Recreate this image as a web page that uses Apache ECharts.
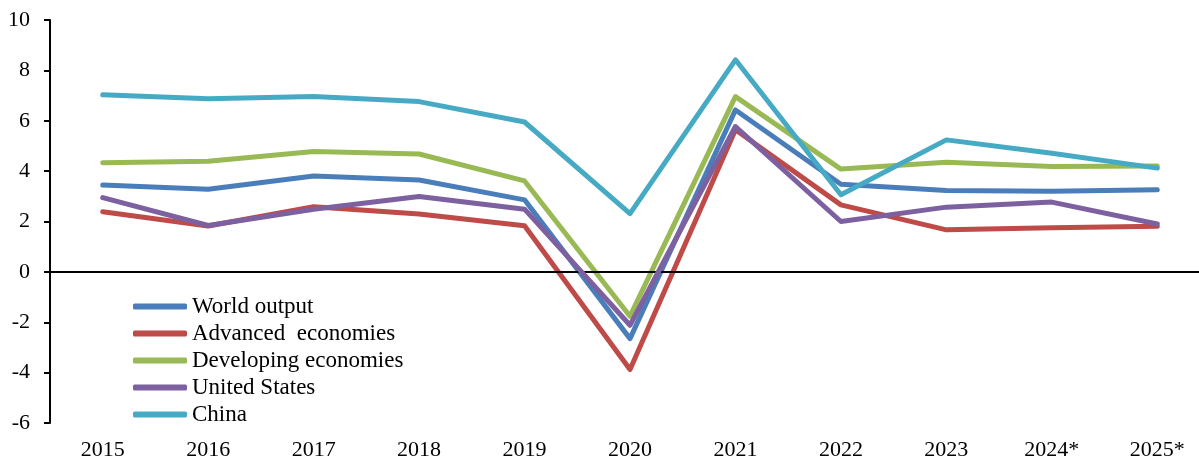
<!DOCTYPE html>
<html>
<head>
<meta charset="utf-8">
<script src="https://cdn.jsdelivr.net/npm/echarts@6/dist/echarts.min.js"></script>
<style>
html,body{margin:0;padding:0;background:#fff;}
#chart{width:1199px;height:459px;}
</style>
</head>
<body>
<div id="chart"></div>
<script>
var years = ['2015','2016','2017','2018','2019','2020','2021','2022','2023','2024*','2025*'];
var worldOutput = [3.45, 3.28, 3.81, 3.65, 2.86, -2.65, 6.43, 3.48, 3.23, 3.20, 3.26];
var advancedEconomies = [2.39, 1.82, 2.59, 2.30, 1.83, -3.88, 5.64, 2.66, 1.67, 1.75, 1.81];
var developingEconomies = [4.33, 4.39, 4.78, 4.68, 3.61, -1.76, 6.96, 4.08, 4.35, 4.18, 4.20];
var unitedStates = [2.95, 1.84, 2.49, 2.99, 2.49, -2.12, 5.77, 2.00, 2.57, 2.77, 1.90];
var china = [7.03, 6.87, 6.96, 6.76, 5.95, 2.31, 8.42, 3.06, 5.24, 4.71, 4.12];
var yTicks = {min: -6, max: 10, interval: 2};

var seriesNames = ['World output', 'Advanced  economies', 'Developing economies', 'United States', 'China'];
var seriesData = [worldOutput, advancedEconomies, developingEconomies, unitedStates, china];
var colors = ['#4A7EBB', '#BE4B48', '#98B954', '#7D60A0', '#46AAC5'];
var fontFamily = '"Liberation Serif", "DejaVu Serif", serif';

var series = [{
  name: 'zero',
  type: 'line',
  data: [],
  z: 1,
  silent: true,
  markLine: {
    silent: true,
    symbol: ['none', 'none'],
    label: {show: false},
    lineStyle: {color: '#000', width: 2, type: 'solid'},
    data: [{yAxis: 0}],
    animation: false
  }
}];
seriesNames.forEach(function (n, i) {
  series.push({
    name: n,
    type: 'line',
    data: seriesData[i],
    symbol: 'none',
    z: 2 + i,
    lineStyle: {width: 5, color: colors[i], cap: 'round', join: 'round'},
    itemStyle: {color: colors[i]},
    animation: false
  });
});

var chart = echarts.init(document.getElementById('chart'), null, {renderer: 'canvas'});
chart.setOption({
  animation: false,
  color: colors,
  grid: {left: 50, top: 20, bottom: 36, right: -11, outerBoundsMode: 'none', containLabel: false},
  legend: {
    data: seriesNames,
    orient: 'vertical',
    left: 133,
    top: 295,
    padding: 0,
    icon: 'roundRect',
    itemWidth: 54,
    itemHeight: 6,
    itemGap: 4,
    textStyle: {fontFamily: fontFamily, fontSize: 23, lineHeight: 23, color: '#000'},
    selectedMode: false
  },
  xAxis: {
    type: 'category',
    data: years,
    boundaryGap: true,
    axisLine: {show: false, onZero: false},
    axisTick: {show: false},
    axisLabel: {color: '#000', fontFamily: fontFamily, fontSize: 22, margin: 16},
    splitLine: {show: false}
  },
  yAxis: {
    type: 'value',
    min: yTicks.min,
    max: yTicks.max,
    interval: yTicks.interval,
    axisLine: {show: true, lineStyle: {color: '#000', width: 2}},
    axisTick: {show: true, length: 6, lineStyle: {color: '#000', width: 2}},
    axisLabel: {color: '#000', fontFamily: fontFamily, fontSize: 22, margin: 20},
    splitLine: {show: false}
  },
  series: series
});
</script>
</body>
</html>
